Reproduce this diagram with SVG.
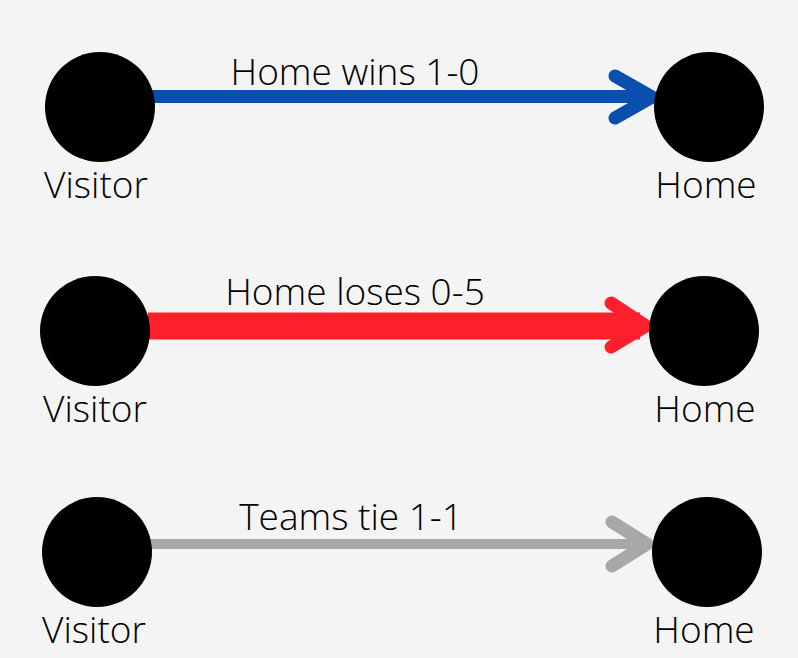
<svg xmlns="http://www.w3.org/2000/svg" width="798" height="658" viewBox="0 0 798 658">
<style>
.node{fill:#000}
.lbl{font-family:"Open Sans","Noto Sans",sans-serif;font-weight:300;font-size:37px;fill:#000;text-anchor:middle}
.head{fill:none;stroke-linecap:round;stroke-linejoin:round;stroke-width:13}
</style>
<rect width="798" height="658" fill="#f4f4f4"/>
<g id="connectors">
  <g id="e1">
    <line x1="149" y1="96.5" x2="648" y2="96.5" stroke="#0a4fae" stroke-width="13" stroke-linecap="butt"/>
    <polyline class="head" points="615,76 652,97 615,118" stroke="#0a4fae"/>
    <text class="lbl" x="355" y="85">Home wins 1-0</text>
  </g>
  <g id="e2">
    <line x1="148" y1="326" x2="640" y2="326" stroke="#ff1f2b" stroke-width="27" stroke-linecap="butt"/>
    <polyline class="head" points="611,303 646,326 611,347" stroke="#ff1f2b" stroke-width="15"/>
    <text class="lbl" x="355" y="305">Home loses 0-5</text>
  </g>
  <g id="e3">
    <line x1="150" y1="544" x2="644" y2="544" stroke="#a8a8a8" stroke-width="10" stroke-linecap="butt"/>
    <polyline class="head" points="612,522 647,544 612,566" stroke="#a8a8a8" stroke-width="12"/>
    <text class="lbl" x="351" y="530">Teams tie 1-1</text>
  </g>
</g>
<g id="visitor1"><circle class="node" cx="100" cy="107" r="55"/><text class="lbl" x="96" y="198">Visitor</text></g>
<g id="home1"><circle class="node" cx="709" cy="107" r="55"/><text class="lbl" x="706" y="198">Home</text></g>
<g id="visitor2"><circle class="node" cx="95" cy="331" r="55"/><text class="lbl" x="95" y="422">Visitor</text></g>
<g id="home2"><circle class="node" cx="704" cy="331" r="55"/><text class="lbl" x="705" y="422">Home</text></g>
<g id="visitor3"><circle class="node" cx="97" cy="552" r="55"/><text class="lbl" x="94" y="643">Visitor</text></g>
<g id="home3"><circle class="node" cx="707" cy="552" r="55"/><text class="lbl" x="704" y="643">Home</text></g>
</svg>
